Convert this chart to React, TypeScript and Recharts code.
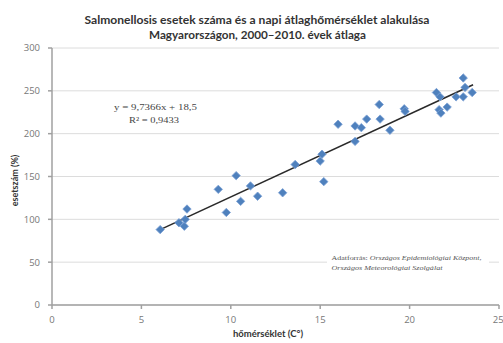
import { ScatterChart, Scatter, XAxis, YAxis, CartesianGrid, ReferenceLine } from "recharts";

// daily mean temperature (°C) vs. salmonellosis cases (%), 2000–2010 average
const tempC = [
  6.05, 7.1, 7.4, 7.45, 7.55, 9.3, 9.75, 10.3, 10.55, 11.1, 11.5, 12.9, 13.6, 15.0, 15.1, 15.2,
  16.0, 16.95, 17.3, 16.95, 17.6, 18.3, 18.35, 18.9, 19.7, 19.75, 21.5, 21.7, 21.65, 21.75, 22.1,
  22.6, 23.0, 23.0, 23.1, 23.5,
];
const cases = [
  88, 96, 92, 100, 112, 135, 108, 151, 121, 139, 127, 131, 164, 168, 176, 144,
  211, 209, 207, 191, 217, 234, 217, 204, 229, 226, 248, 243, 228, 224, 231,
  243, 243, 265, 254, 248,
];
const trendX = [6.05, 23.55];
const trendY = [88, 257];

const xTicks = [0, 5, 10, 15, 20, 25];
const yTicks = [0, 50, 100, 150, 200, 250, 300];

const titleLines = [
  "Salmonellosis esetek száma és a napi átlaghőmérséklet alakulása",
  "Magyarországon, 2000–2010. évek átlaga",
];
const equation = "y = 9,7366x + 18,5";
const rSquared = "R² = 0,9433";
const sourceLines = ["Országos Epidemiológiai Központ,", "Országos Meteorológiai Szolgálat"];

const points = tempC.map((x, i) => ({ x, y: cases[i] }));

const Diamond = (props: any) => {
  const { cx, cy } = props;
  const r = 4.2;
  return (
    <polygon
      points={`${cx},${cy - r} ${cx + r},${cy} ${cx},${cy + r} ${cx - r},${cy}`}
      fill="#4f81bd"
      stroke="#7aa0d4"
      strokeWidth={0.8}
    />
  );
};

export default function App() {
  const tickStyle = { fontFamily: "Open Sans", fontSize: 9.5, fill: "#777" };
  return (
    <div style={{ position: "absolute", left: 0, top: 0, width: 503, height: 343, background: "#fff" }}>
      <ScatterChart width={503} height={343} margin={{ top: 48, right: 4, bottom: 0, left: 0 }}>
        <CartesianGrid vertical={false} stroke="#dcdcdc" />
        <XAxis
          type="number"
          dataKey="x"
          domain={[0, 25]}
          ticks={xTicks}
          height={38}
          tick={tickStyle}
          tickSize={4}
          tickMargin={7}
          stroke="#a0a0a0"
          strokeWidth={1.5}
        />
        <YAxis
          type="number"
          dataKey="y"
          domain={[0, 300]}
          ticks={yTicks}
          width={52}
          tick={tickStyle}
          tickSize={4}
          tickMargin={8}
          stroke="#a0a0a0"
          strokeWidth={1.5}
        />
        <Scatter data={points} shape={Diamond} isAnimationActive={false} />
        <ReferenceLine
          segment={[
            { x: trendX[0], y: trendY[0] },
            { x: trendX[1], y: trendY[1] },
          ]}
          stroke="#2a2a2a"
          strokeWidth={1.6}
          ifOverflow="visible"
        />
      </ScatterChart>
      <svg
        width={503}
        height={343}
        style={{ position: "absolute", left: 0, top: 0, pointerEvents: "none" }}
      >
        <g fontFamily="Lato" fontWeight="bold" fill="#333" textAnchor="middle">
          <text x={257} y={24} fontSize={11} textLength={345} lengthAdjust="spacingAndGlyphs">
            {titleLines[0]}
          </text>
          <text x={257.5} y={38.5} fontSize={11} textLength={217} lengthAdjust="spacingAndGlyphs">
            {titleLines[1]}
          </text>
          <text x={268} y={337} fontSize={9.5}>
            hőmérséklet (C°)
          </text>
          <text x={18} y={180.5} fontSize={9} transform="rotate(-90 18 180.5)">
            esetszám (%)
          </text>
        </g>
        <g fontFamily="Liberation Serif" fill="#444" fontSize={8.5}>
          <text x={114} y={109.5} textLength={83} lengthAdjust="spacingAndGlyphs">
            {equation}
          </text>
          <text x={129} y={123} textLength={50} lengthAdjust="spacingAndGlyphs">
            {rSquared}
          </text>
        </g>
        <rect x={327} y={249} width={162} height={27} fill="#fff" />
        <g fontFamily="Liberation Serif" fill="#555" fontSize={6.6}>
          <text x={331.5} y={260} textLength={150} lengthAdjust="spacingAndGlyphs">
            <tspan>Adatforrás: </tspan>
            <tspan fontStyle="italic">{sourceLines[0]}</tspan>
          </text>
          <text x={331.5} y={269.8} fontStyle="italic" textLength={111} lengthAdjust="spacingAndGlyphs">
            {sourceLines[1]}
          </text>
        </g>
      </svg>
    </div>
  );
}
